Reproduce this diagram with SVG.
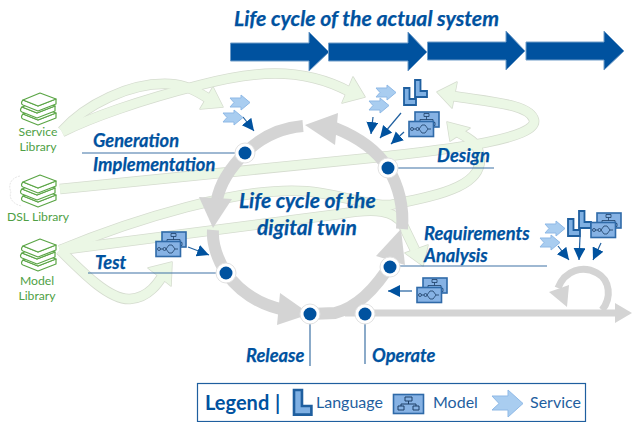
<svg xmlns="http://www.w3.org/2000/svg" xmlns:xlink="http://www.w3.org/1999/xlink" width="632" height="422" viewBox="0 0 632 422">
<style>
.t{font-family:Lato,"Liberation Sans",sans-serif;font-weight:700;font-style:italic;fill:#00529f;stroke:#00529f;stroke-width:.25}
.h{font-size:21.200px}.m{font-size:21px}.s{font-size:18.300px}
.lib{font-family:Lato,"Liberation Sans",sans-serif;font-size:12.200px;fill:#4f9f45;text-anchor:middle}
.lg{font-family:Lato,"Liberation Sans",sans-serif;font-size:16px;fill:#1f5f9f}
.grey{fill:none;stroke:#d4d4d4;stroke-width:12}
.greyh{fill:#d4d4d4}
.bo{fill:none;stroke:#d5dccf;stroke-width:10.500}
.bi{fill:none;stroke:#ebf7e5;stroke-width:9}
.ho{fill:#d5dccf;stroke:#d5dccf;stroke-width:1.500;stroke-linejoin:round}
.hi{fill:#ebf7e5}
.ring{fill:#fff;stroke:#e2e2e2;stroke-width:1}
.dot{fill:#00529f}
.rule{stroke:#3f73a6;stroke-width:1.200;fill:none}
.ar{stroke:#1f5f9f;stroke-width:1.200;fill:none;marker-end:url(#tip)}
.big{fill:#00529f;stroke:#6f9cc8;stroke-width:1}
.book{fill:#fff;stroke:#5aa545;stroke-width:1.200;stroke-linejoin:round}
.lang{fill:#7fb0e3;stroke:#1f5f9f;stroke-width:1.800}
.mod{fill:#86b2e4;stroke:#2f6aa8;stroke-width:1.600}
.ml{fill:none;stroke:#1d3f66;stroke-width:.8}
.svc{fill:#a9cdf0;stroke:#8fb9e6;stroke-width:1}
</style>
<defs>
<marker id="tip" markerUnits="userSpaceOnUse" markerWidth="14" markerHeight="14" refX="12" refY="6" orient="auto"><path d="M0 0L12 6L0 12Z" fill="#00529f"/></marker>
<g id="book">
<path class="book" d="M2 7C0 9 0 11 2 12L17 18L35 11V6L17 13Z"/>
<path class="book" d="M2 7L19 0L35 6L17 13Z"/>
</g>
<g id="books">
<use xlink:href="#book" x="1" y="14"/>
<use xlink:href="#book" x="0" y="7"/>
<use xlink:href="#book" x="1" y="0"/>
</g>
<path id="L" d="M0 0H5.500V11H12V17H0Z"/>
<g id="svc"><path class="svc" d="M0 3H11V0L20 7.500L11 15V12H0L4 7.500Z"/></g>
<g id="modelBack"><rect class="mod" width="24" height="15"/><path class="ml" d="M9 1.500h5v3h-5zM11.500 4.500v3M5 7.500h13v3M5 7.500v3M3 10.500h4v3h-4zM16 10.500h4v3h-4z"/></g>
<g id="modelFlow"><rect class="mod" width="24.500" height="15"/><path class="ml" d="M3 7.500m-1.500 0a1.500 1.500 0 1 0 3 0a1.500 1.500 0 1 0 -3 0M4.500 7.500h2.500M7 7.500a1.500 1.500 0 1 0 3 0a1.500 1.500 0 1 0 -3 0M10 7.500l3-4h3l3 4-3 4h-3zM19 7.500h3"/></g>
<g id="modelPair"><use xlink:href="#modelBack" x="6" y="0"/><use xlink:href="#modelFlow" x="0" y="9.500"/></g>
<g id="langPair"><use xlink:href="#L" class="lang" x="11" y="0"/><use xlink:href="#L" class="lang" x="0" y="8"/></g>
<g id="bands">
<path d="M62 131C85 105 130 82 170 84C185 85 195 90 209 99"/>
<path d="M62 132C90 118 140 100 200 85C250 72 300 65 350 92"/>
<path d="M60 189L380 157C440 150 538 140 534 120C530 104 490 102 452 96"/>
<path d="M60 250C120 225 250 180 320 193C360 200 380 208 395 204C440 195 490 185 478 150C475 140 465 137 458 132"/>
<path d="M60 250L340 214C375 208 395 210 403 225L415 250"/>
<path d="M60 250C85 275 110 300 130 299C150 298 160 280 165 272"/>
</g>
<g id="heads">
<polygon points="223,107 213,87 200,109"/>
<polygon points="365,97 353,77 342,103"/>
<polygon points="437,92 457,82 452,108"/>
<polygon points="447,122 470,128 450,141"/>
<polygon points="423,266 428,245 405,253"/>
<polygon points="172,262 148,268 171,286"/>
</g>
</defs>
<rect width="632" height="422" fill="#fff"/>

<g id="connectors">
<g id="green-flows">
<use xlink:href="#bands" class="bo"/><use xlink:href="#heads" class="ho"/>
<use xlink:href="#bands" class="bi"/><use xlink:href="#heads" class="hi"/>
</g>
<g id="grey-cycle">
<path class="grey" d="M303 126C280 128 260 138 245 153C230 168 220 183 217 200"/>
<polygon class="greyh" points="213,228 199,197 232,199"/>
<path class="grey" d="M402 229C404 205 398 185 388 168C378 152 360 138 335 128"/>
<polygon class="greyh" points="305,125 338,113 335,145"/>
<path class="grey" d="M213 230C212 245 218 260 226 273C240 292 260 305 285 310"/>
<polygon class="greyh" points="310,314 280,293 277,325"/>
<path class="grey" d="M310 314L335 313C355 308 375 290 392 262"/>
<polygon class="greyh" points="401,229 376,256 405,265"/>
<path class="grey" style="stroke-width:7" d="M345 313H616"/>
<polygon class="greyh" points="632,313 615,303 615,323"/>
<path class="grey" style="stroke-width:7" d="M602 310C612 298 610 280 597 273C583 265 565 270 558 288"/>
<polygon class="greyh" points="567,307 549,292 569,285"/>
</g>
<g id="rules">
<path class="rule" d="M82 153H240M397 168H494M88 273H220M397 266H547M365 320V364M310 320V366"/>
</g>
<g id="small-arrows">
<path class="ar" d="M243 117L254 131"/>
<path class="ar" d="M373 117L371 134"/>
<path class="ar" d="M401 113L380 138"/>
<path class="ar" d="M404 132L391 144"/>
<path class="ar" d="M188 247L209 255"/>
<path class="ar" d="M412 291H388"/>
<path class="ar" d="M558 246L569 260"/>
<path class="ar" d="M580 237L579 260"/>
<path class="ar" d="M601 243L593 260"/>
</g>
</g>

<g id="actual-system">
<text class="t h" x="234" y="26">Life cycle of the actual system</text>
<path class="big" d="M230.500 43H309V32L329 52L309 71V61H230.500Z"/>
<path class="big" d="M328.500 43H408V32L427 52L408 71V61H328.500Z"/>
<path class="big" d="M427.500 42H506V31L525 51L506 70V60H427.500Z"/>
<path class="big" d="M526 42H604V31L624 51L604 70V60H526Z"/>
</g>

<g id="service-library"><use xlink:href="#books" x="20" y="93"/><text class="lib" x="38" y="136">Service</text><text class="lib" x="38" y="150.500">Library</text></g>
<g id="dsl-library"><path d="M20 176C10 178 8 186 11 192C8 198 14 205 22 206" fill="none" stroke="#e0e0e0" stroke-width=".8" stroke-dasharray="2 1"/><use xlink:href="#books" x="20" y="175"/><text class="lib" x="38" y="221">DSL Library</text></g>
<g id="model-library"><use xlink:href="#books" x="20" y="239"/><text class="lib" x="37" y="285">Model</text><text class="lib" x="37" y="299.500">Library</text></g>

<g id="digital-twin-title"><text class="t m" x="239" y="208">Life cycle of the</text><text class="t m" x="257" y="235">digital twin</text></g>

<g id="node-generation"><circle class="ring" cx="245" cy="153" r="10"/><circle class="dot" cx="245" cy="153" r="6.500"/><text class="t s" x="93" y="147">Generation</text><text class="t s" x="93" y="171">Implementation</text></g>
<g id="node-design"><circle class="ring" cx="388" cy="168" r="10"/><circle class="dot" cx="388" cy="168" r="6.500"/><text class="t s" x="437" y="162">Design</text></g>
<g id="node-test"><circle class="ring" cx="226" cy="273" r="10"/><circle class="dot" cx="226" cy="273" r="6.500"/><text class="t s" x="95" y="269">Test</text></g>
<g id="node-requirements"><circle class="ring" cx="390" cy="267" r="10"/><circle class="dot" cx="390" cy="267" r="6.500"/><text class="t s" x="424" y="240">Requirements</text><text class="t s" x="424" y="262">Analysis</text></g>
<g id="node-release"><circle class="ring" cx="310" cy="314" r="10"/><circle class="dot" cx="310" cy="314" r="6.500"/><text class="t s" x="246" y="362">Release</text></g>
<g id="node-operate"><circle class="ring" cx="365" cy="314" r="10"/><circle class="dot" cx="365" cy="314" r="6.500"/><text class="t s" x="372" y="362">Operate</text></g>

<g id="artifacts-generation"><use xlink:href="#svc" x="230" y="95"/><use xlink:href="#svc" x="223" y="110"/></g>
<g id="artifacts-design"><use xlink:href="#svc" x="376" y="85"/><use xlink:href="#svc" x="369" y="98"/><use xlink:href="#langPair" x="404" y="80"/><use xlink:href="#modelPair" x="409" y="112"/></g>
<g id="artifacts-test"><use xlink:href="#modelPair" x="156" y="232"/></g>
<g id="artifacts-operate"><use xlink:href="#modelPair" x="417" y="278"/></g>
<g id="artifacts-requirements"><use xlink:href="#svc" x="545" y="221"/><use xlink:href="#svc" x="540" y="235"/><use xlink:href="#langPair" x="568" y="211"/><use xlink:href="#modelPair" x="591" y="213"/></g>

<g id="legend">
<rect x="197.500" y="383.500" width="388" height="38" fill="#fff" stroke="#1f5f9f" stroke-width="1.200"/>
<text x="205" y="410" font-family="Lato,'Liberation Sans',sans-serif" font-weight="700" font-size="20" fill="#00529f">Legend</text>
<text x="275" y="410" font-family="Lato,'Liberation Sans',sans-serif" font-weight="700" font-size="20" fill="#00529f">|</text>
<use xlink:href="#L" class="lang" transform="translate(294 390) scale(1.450)"/>
<text class="lg" x="316" y="408">Language</text>
<rect class="mod" x="393.500" y="394.500" width="30" height="19"/>
<path class="ml" style="stroke-width:1" d="M405 397h7v4h-7zM408.500 401v3M401 404h15v2M401 404v2M398 406h6v4h-6zM413 406h6v4h-6z"/>
<text class="lg" x="433" y="408">Model</text>
<path class="svc" d="M492 396H508V390L523 403.500L508 417V410H492L499 403.500Z"/>
<text class="lg" x="530" y="408">Service</text>
</g>
</svg>
